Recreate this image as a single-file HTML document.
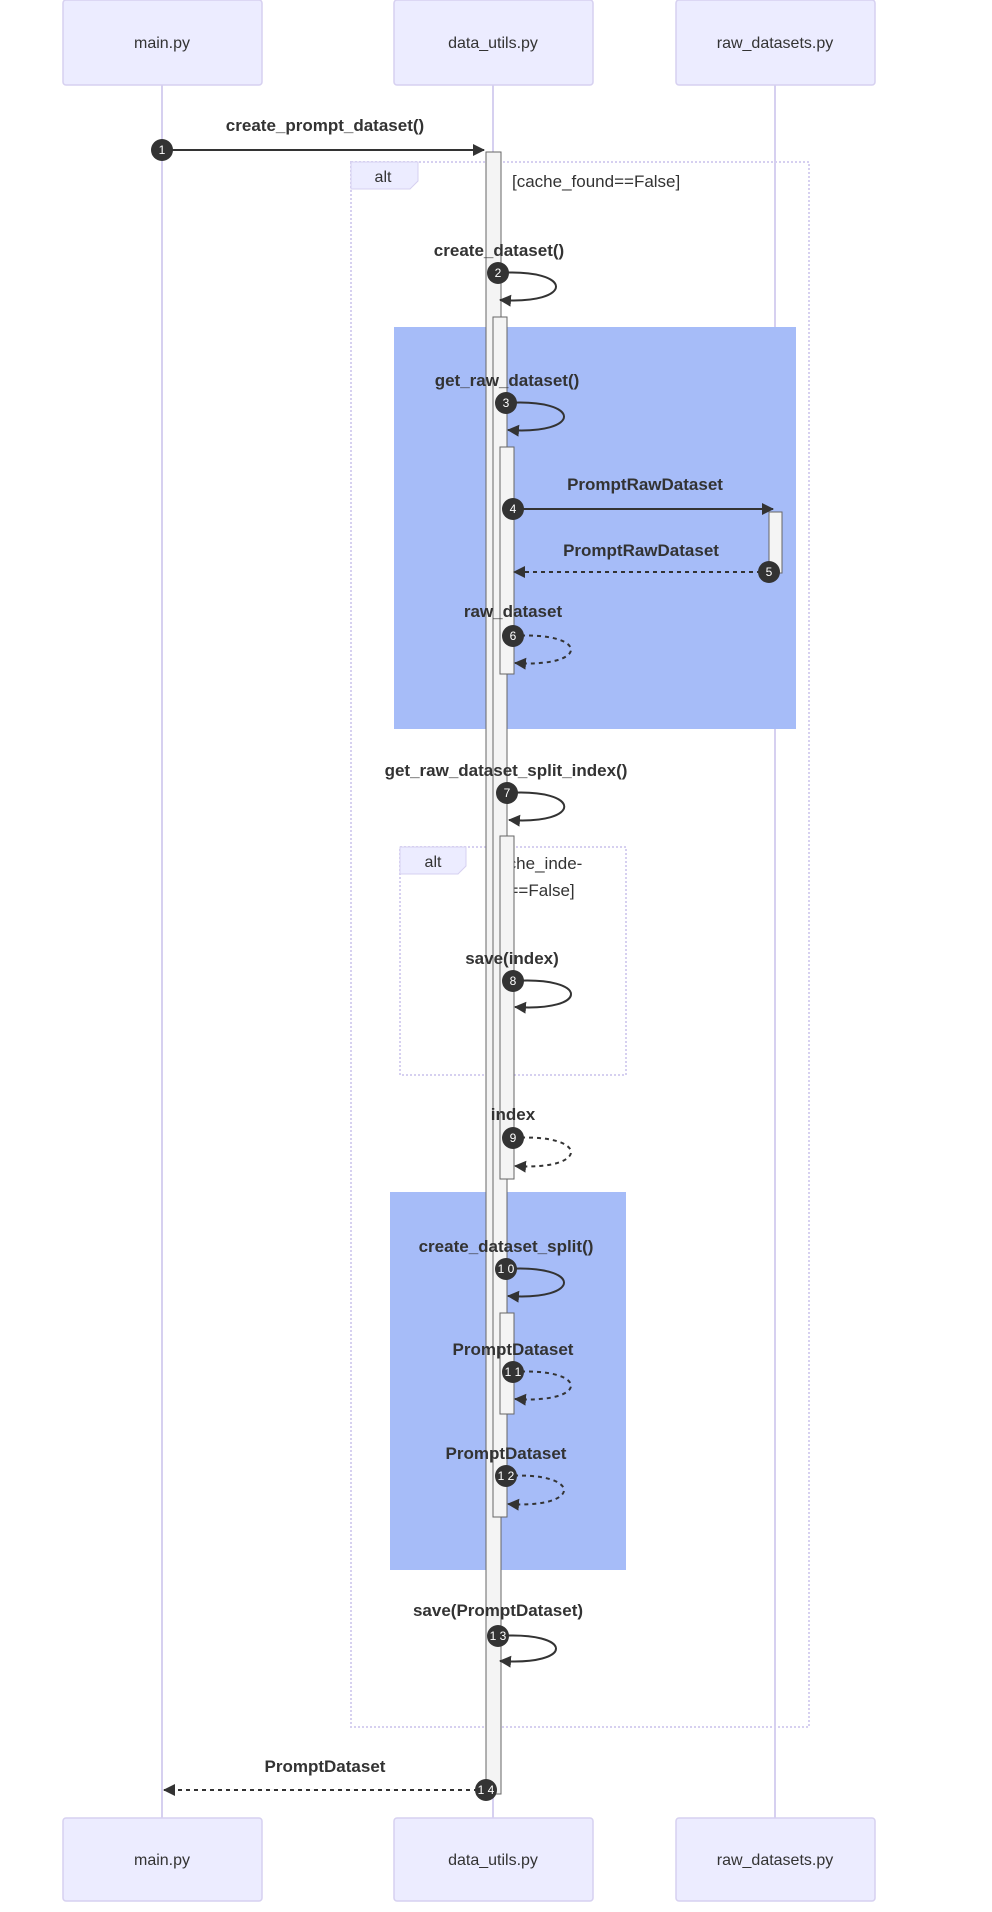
<!DOCTYPE html>
<html><head><meta charset="utf-8"><style>
html,body{margin:0;padding:0;background:#fff;}
svg{display:block;font-family:"Liberation Sans",sans-serif;}
.msg{font-size:17px;font-weight:bold;fill:#333;text-anchor:middle;}
.act{font-size:16px;fill:#333;text-anchor:middle;}
.num{font-size:12px;fill:#fff;text-anchor:middle;}
</style></head><body>
<svg width="992" height="1912" viewBox="0 0 992 1912" xmlns="http://www.w3.org/2000/svg">
<defs>
<marker id="ah" markerWidth="12" markerHeight="12" refX="11" refY="6" orient="auto" markerUnits="userSpaceOnUse"><path d="M0,0 L12,6 L0,12 z" fill="#333"/></marker>
</defs>
<!-- lifelines -->
<g stroke="#d6d0f0" stroke-width="2">
<line x1="162" y1="85" x2="162" y2="1818"/>
<line x1="493" y1="85" x2="493" y2="1818"/>
<line x1="775" y1="85" x2="775" y2="1818"/>
</g>
<!-- actors -->
<g fill="#ececff" stroke="#d6d0f0" stroke-width="1.5">
<rect x="63" y="0" width="199" height="85" rx="3"/>
<rect x="394" y="0" width="199" height="85" rx="3"/>
<rect x="676" y="0" width="199" height="85" rx="3"/>
<rect x="63" y="1818" width="199" height="83" rx="3"/>
<rect x="394" y="1818" width="199" height="83" rx="3"/>
<rect x="676" y="1818" width="199" height="83" rx="3"/>
</g>
<text class="act" x="162" y="48">main.py</text>
<text class="act" x="493" y="48">data_utils.py</text>
<text class="act" x="775" y="48">raw_datasets.py</text>
<text class="act" x="162" y="1865">main.py</text>
<text class="act" x="493" y="1865">data_utils.py</text>
<text class="act" x="775" y="1865">raw_datasets.py</text>
<!-- blue rects -->
<rect x="394" y="327" width="402" height="402" fill="#a6bcf8"/>
<rect x="390" y="1192" width="236" height="378" fill="#a6bcf8"/>
<!-- alt outer -->
<rect x="351" y="162" width="458" height="1565" fill="none" stroke="#d6d0f0" stroke-width="2" stroke-dasharray="2,2"/>
<path d="M351,162 H418 V181 L410,189 H351 Z" fill="#ececff" stroke="#d6d0f0"/>
<text x="383" y="182" style="font-size:16px;fill:#333;text-anchor:middle">alt</text>
<text x="512" y="187" style="font-size:17px;fill:#333">[cache_found==False]</text>
<!-- alt inner -->
<rect x="400" y="847" width="226" height="228" fill="none" stroke="#d6d0f0" stroke-width="2" stroke-dasharray="2,2"/>
<path d="M400,847 H466 V866 L458,874 H400 Z" fill="#ececff" stroke="#d6d0f0"/>
<text x="433" y="867" style="font-size:16px;fill:#333;text-anchor:middle">alt</text>
<text x="485" y="869" style="font-size:17px;fill:#333">[cache_inde-</text>
<text x="500" y="896" style="font-size:17px;fill:#333">x==False]</text>
<!-- activations -->
<g fill="#f4f4f4" stroke="#666" stroke-width="1">
<rect x="486" y="152" width="15" height="1642"/>
<rect x="493" y="317" width="14" height="1200"/>
<rect x="500" y="447" width="14" height="227"/>
<rect x="769" y="512" width="13" height="61"/>
<rect x="500" y="836" width="14" height="343"/>
<rect x="500" y="1313" width="14" height="101"/>
</g>
<!-- messages -->
<g stroke="#333" stroke-width="2" fill="none">
<line x1="162" y1="150" x2="484" y2="150" marker-end="url(#ah)"/>
<path d="M498,273 C575,268 575,305 500,300" marker-end="url(#ah)"/>
<path d="M506,403 C583,398 583,435 508,430" marker-end="url(#ah)"/>
<line x1="514" y1="509" x2="773" y2="509" marker-end="url(#ah)"/>
<line x1="769" y1="572" x2="514" y2="572" stroke-dasharray="4,4" marker-end="url(#ah)"/>
<path d="M513,636 C590,631 590,668 515,663" stroke-dasharray="4,4" marker-end="url(#ah)"/>
<path d="M507,793 C583,788 583,825 509,820" marker-end="url(#ah)"/>
<path d="M513,981 C590,976 590,1012 515,1007" marker-end="url(#ah)"/>
<path d="M513,1138 C590,1133 590,1171 515,1166" stroke-dasharray="4,4" marker-end="url(#ah)"/>
<path d="M506,1269 C583,1264 583,1301 508,1296" marker-end="url(#ah)"/>
<path d="M513,1372 C590,1367 590,1404 515,1399" stroke-dasharray="4,4" marker-end="url(#ah)"/>
<path d="M506,1476 C583,1471 583,1509 508,1504" stroke-dasharray="4,4" marker-end="url(#ah)"/>
<path d="M498,1636 C575,1631 575,1666 500,1661" marker-end="url(#ah)"/>
<line x1="486" y1="1790" x2="164" y2="1790" stroke-dasharray="4,4" marker-end="url(#ah)"/>
</g>
<!-- labels -->
<text class="msg" x="325" y="131">create_prompt_dataset()</text>
<text class="msg" x="499" y="256">create_dataset()</text>
<text class="msg" x="507" y="386">get_raw_dataset()</text>
<text class="msg" x="645" y="490">PromptRawDataset</text>
<text class="msg" x="641" y="556">PromptRawDataset</text>
<text class="msg" x="513" y="617">raw_dataset</text>
<text class="msg" x="506" y="776">get_raw_dataset_split_index()</text>
<text class="msg" x="512" y="964">save(index)</text>
<text class="msg" x="513" y="1120">index</text>
<text class="msg" x="506" y="1252">create_dataset_split()</text>
<text class="msg" x="513" y="1355">PromptDataset</text>
<text class="msg" x="506" y="1459">PromptDataset</text>
<text class="msg" x="498" y="1616">save(PromptDataset)</text>
<text class="msg" x="325" y="1772">PromptDataset</text>
<!-- numbers -->
<g fill="#333">
<circle cx="162" cy="150" r="11"/><circle cx="498" cy="273" r="11"/><circle cx="506" cy="403" r="11"/>
<circle cx="513" cy="509" r="11"/><circle cx="769" cy="572" r="11"/><circle cx="513" cy="636" r="11"/>
<circle cx="507" cy="793" r="11"/><circle cx="513" cy="981" r="11"/><circle cx="513" cy="1138" r="11"/>
<circle cx="506" cy="1269" r="11"/><circle cx="513" cy="1372" r="11"/><circle cx="506" cy="1476" r="11"/>
<circle cx="498" cy="1636" r="11"/><circle cx="486" cy="1790" r="11"/>
</g>
<text class="num" x="162" y="154">1</text><text class="num" x="498" y="277">2</text><text class="num" x="506" y="407">3</text>
<text class="num" x="513" y="513">4</text><text class="num" x="769" y="576">5</text><text class="num" x="513" y="640">6</text>
<text class="num" x="507" y="797">7</text><text class="num" x="513" y="985">8</text><text class="num" x="513" y="1142">9</text>
<text class="num" x="506" y="1273">1 0</text><text class="num" x="513" y="1376">1 1</text><text class="num" x="506" y="1480">1 2</text>
<text class="num" x="498" y="1640">1 3</text><text class="num" x="486" y="1794">1 4</text>
</svg>
</body></html>
